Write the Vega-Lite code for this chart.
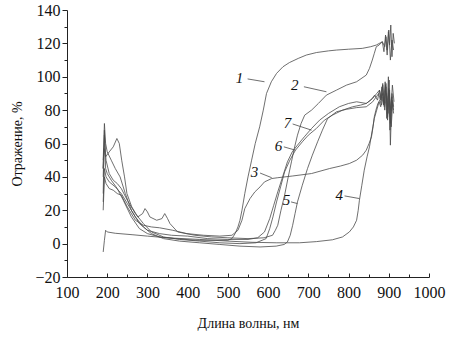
{
  "$schema": "https://vega.github.io/schema/vega-lite/v6.json",
  "autosize": {"type": "none"},
  "padding": {"left": 67, "top": 10, "right": 26, "bottom": 60},
  "width": 362,
  "height": 267,
  "background": "white",
  "config": {
    "view": {"stroke": null},
    "font": "Liberation Serif",
    "axis": {"grid": false, "domainColor": "#222", "tickColor": "#222", "labelColor": "#111", "titleColor": "#111", "labelFont": "Liberation Serif", "titleFont": "Liberation Serif", "labelFontSize": 16, "titleFontSize": 14, "titleFontWeight": "normal", "domainWidth": 1, "tickWidth": 1}
  },
  "resolve": {"axis": {"x": "independent", "y": "independent"}},
  "datasets": {
    "curves": [
      {"s":"1","x":190,"y":30},{"s":"1","x":193,"y":68},{"s":"1","x":196,"y":45},{"s":"1","x":200,"y":42},{"s":"1","x":210,"y":38},{"s":"1","x":225,"y":33},{"s":"1","x":240,"y":26},{"s":"1","x":260,"y":16},{"s":"1","x":280,"y":9},{"s":"1","x":300,"y":6},{"s":"1","x":330,"y":4},{"s":"1","x":370,"y":3},{"s":"1","x":420,"y":2},{"s":"1","x":470,"y":2},{"s":"1","x":500,"y":2},{"s":"1","x":510,"y":3},{"s":"1","x":518,"y":6},{"s":"1","x":525,"y":10},{"s":"1","x":530,"y":14},{"s":"1","x":535,"y":20},{"s":"1","x":542,"y":30},{"s":"1","x":550,"y":40},{"s":"1","x":559,"y":50},{"s":"1","x":568,"y":60},{"s":"1","x":579,"y":70},{"s":"1","x":588,"y":80},{"s":"1","x":596,"y":90},{"s":"1","x":608,"y":97},{"s":"1","x":621,"y":102},{"s":"1","x":637,"y":106},{"s":"1","x":653,"y":108.5},{"s":"1","x":675,"y":111},{"s":"1","x":695,"y":113},{"s":"1","x":720,"y":114.5},{"s":"1","x":750,"y":115.5},{"s":"1","x":770,"y":116},{"s":"1","x":800,"y":116.5},{"s":"1","x":834,"y":117},{"s":"1","x":855,"y":118},{"s":"1","x":869,"y":119},{"s":"1","x":884,"y":121},{"s":"1","x":890,"y":118},{"s":"1","x":893,"y":124},{"s":"1","x":896,"y":116},{"s":"1","x":899,"y":127},{"s":"1","x":902,"y":119},{"s":"1","x":905,"y":131},{"s":"1","x":908,"y":112},{"s":"1","x":911,"y":126},{"s":"1","x":914,"y":120},
      {"s":"2","x":189,"y":45},{"s":"2","x":192,"y":57},{"s":"2","x":196,"y":52},{"s":"2","x":205,"y":55},{"s":"2","x":215,"y":58},{"s":"2","x":224,"y":63},{"s":"2","x":230,"y":60},{"s":"2","x":236,"y":50},{"s":"2","x":243,"y":40},{"s":"2","x":249,"y":30},{"s":"2","x":261,"y":22},{"s":"2","x":276,"y":16},{"s":"2","x":288,"y":18},{"s":"2","x":294,"y":21},{"s":"2","x":300,"y":19},{"s":"2","x":306,"y":16},{"s":"2","x":323,"y":14},{"s":"2","x":336,"y":15},{"s":"2","x":343,"y":18},{"s":"2","x":350,"y":15},{"s":"2","x":356,"y":12},{"s":"2","x":375,"y":7},{"s":"2","x":418,"y":5},{"s":"2","x":460,"y":4},{"s":"2","x":500,"y":3.5},{"s":"2","x":550,"y":3},{"s":"2","x":590,"y":3.5},{"s":"2","x":611,"y":5},{"s":"2","x":618,"y":8},{"s":"2","x":624,"y":11},{"s":"2","x":632,"y":20},{"s":"2","x":641,"y":29},{"s":"2","x":650,"y":40},{"s":"2","x":658,"y":49},{"s":"2","x":665,"y":57},{"s":"2","x":673,"y":65},{"s":"2","x":682,"y":72},{"s":"2","x":691,"y":77},{"s":"2","x":708,"y":80},{"s":"2","x":725,"y":84},{"s":"2","x":745,"y":89},{"s":"2","x":770,"y":92},{"s":"2","x":795,"y":95},{"s":"2","x":820,"y":97},{"s":"2","x":844,"y":101},{"s":"2","x":852,"y":105},{"s":"2","x":859,"y":110},{"s":"2","x":864,"y":114},{"s":"2","x":869,"y":118},{"s":"2","x":876,"y":119},{"s":"2","x":884,"y":121},{"s":"2","x":888,"y":115},{"s":"2","x":892,"y":125},{"s":"2","x":896,"y":113},{"s":"2","x":900,"y":128},{"s":"2","x":904,"y":110},{"s":"2","x":908,"y":122},{"s":"2","x":912,"y":116},
      {"s":"3","x":190,"y":20},{"s":"3","x":193,"y":40},{"s":"3","x":197,"y":36},{"s":"3","x":205,"y":33},{"s":"3","x":215,"y":32},{"s":"3","x":225,"y":30},{"s":"3","x":235,"y":29},{"s":"3","x":250,"y":22},{"s":"3","x":270,"y":14},{"s":"3","x":290,"y":11},{"s":"3","x":310,"y":10},{"s":"3","x":330,"y":9.5},{"s":"3","x":363,"y":8},{"s":"3","x":398,"y":6},{"s":"3","x":440,"y":5},{"s":"3","x":480,"y":4.5},{"s":"3","x":510,"y":5},{"s":"3","x":525,"y":8},{"s":"3","x":535,"y":14},{"s":"3","x":542,"y":21},{"s":"3","x":555,"y":27},{"s":"3","x":567,"y":31},{"s":"3","x":580,"y":34},{"s":"3","x":591,"y":37},{"s":"3","x":609,"y":39},{"s":"3","x":624,"y":39.5},{"s":"3","x":660,"y":40.5},{"s":"3","x":708,"y":42},{"s":"3","x":753,"y":45},{"s":"3","x":780,"y":46.5},{"s":"3","x":802,"y":48},{"s":"3","x":820,"y":50},{"s":"3","x":835,"y":53},{"s":"3","x":844,"y":56},{"s":"3","x":851,"y":60},{"s":"3","x":857,"y":64},{"s":"3","x":861,"y":70},{"s":"3","x":864,"y":76},{"s":"3","x":868,"y":80},{"s":"3","x":873,"y":84},{"s":"3","x":878,"y":86},{"s":"3","x":882,"y":83},{"s":"3","x":886,"y":88},{"s":"3","x":890,"y":80},{"s":"3","x":894,"y":90},{"s":"3","x":898,"y":78},{"s":"3","x":902,"y":92},{"s":"3","x":906,"y":70},{"s":"3","x":910,"y":85},
      {"s":"4","x":190,"y":-5},{"s":"4","x":193,"y":2},{"s":"4","x":196,"y":8},{"s":"4","x":200,"y":7},{"s":"4","x":220,"y":6.2},{"s":"4","x":264,"y":5.3},{"s":"4","x":300,"y":4.5},{"s":"4","x":348,"y":3.5},{"s":"4","x":430,"y":2.5},{"s":"4","x":500,"y":1.5},{"s":"4","x":560,"y":0.8},{"s":"4","x":620,"y":0.5},{"s":"4","x":678,"y":0.5},{"s":"4","x":720,"y":1.2},{"s":"4","x":760,"y":2.3},{"s":"4","x":785,"y":4},{"s":"4","x":802,"y":7},{"s":"4","x":812,"y":10},{"s":"4","x":820,"y":14},{"s":"4","x":824,"y":20},{"s":"4","x":827,"y":26},{"s":"4","x":833,"y":35},{"s":"4","x":839,"y":44},{"s":"4","x":846,"y":52},{"s":"4","x":852,"y":58},{"s":"4","x":859,"y":68},{"s":"4","x":864,"y":75},{"s":"4","x":870,"y":80},{"s":"4","x":876,"y":85},{"s":"4","x":880,"y":82},{"s":"4","x":884,"y":90},{"s":"4","x":888,"y":84},{"s":"4","x":892,"y":95},{"s":"4","x":896,"y":80},{"s":"4","x":900,"y":93},{"s":"4","x":904,"y":72},{"s":"4","x":908,"y":86},{"s":"4","x":912,"y":78},
      {"s":"5","x":190,"y":25},{"s":"5","x":193,"y":45},{"s":"5","x":197,"y":40},{"s":"5","x":205,"y":37},{"s":"5","x":220,"y":34},{"s":"5","x":235,"y":30},{"s":"5","x":250,"y":24},{"s":"5","x":270,"y":16},{"s":"5","x":290,"y":10},{"s":"5","x":310,"y":6},{"s":"5","x":340,"y":3},{"s":"5","x":380,"y":1.5},{"s":"5","x":430,"y":0.5},{"s":"5","x":480,"y":-0.5},{"s":"5","x":530,"y":-1.5},{"s":"5","x":580,"y":-2},{"s":"5","x":620,"y":-1.5},{"s":"5","x":640,"y":-0.5},{"s":"5","x":648,"y":1},{"s":"5","x":655,"y":5},{"s":"5","x":661,"y":11},{"s":"5","x":667,"y":18},{"s":"5","x":673,"y":25},{"s":"5","x":685,"y":35},{"s":"5","x":698,"y":45},{"s":"5","x":710,"y":53},{"s":"5","x":723,"y":61},{"s":"5","x":735,"y":68},{"s":"5","x":748,"y":75},{"s":"5","x":770,"y":79},{"s":"5","x":795,"y":80.5},{"s":"5","x":820,"y":81.5},{"s":"5","x":844,"y":82},{"s":"5","x":860,"y":85},{"s":"5","x":869,"y":88},{"s":"5","x":875,"y":90},{"s":"5","x":879,"y":86},{"s":"5","x":883,"y":94},{"s":"5","x":887,"y":83},{"s":"5","x":891,"y":97},{"s":"5","x":895,"y":75},{"s":"5","x":899,"y":100},{"s":"5","x":903,"y":68},{"s":"5","x":907,"y":88},{"s":"5","x":912,"y":80},
      {"s":"6","x":190,"y":40},{"s":"6","x":193,"y":65},{"s":"6","x":197,"y":50},{"s":"6","x":205,"y":42},{"s":"6","x":215,"y":38},{"s":"6","x":225,"y":36},{"s":"6","x":235,"y":33},{"s":"6","x":250,"y":26},{"s":"6","x":270,"y":18},{"s":"6","x":290,"y":12},{"s":"6","x":310,"y":7},{"s":"6","x":340,"y":4},{"s":"6","x":380,"y":2.5},{"s":"6","x":430,"y":1.5},{"s":"6","x":480,"y":0.5},{"s":"6","x":530,"y":0},{"s":"6","x":570,"y":0.5},{"s":"6","x":595,"y":3},{"s":"6","x":604,"y":9},{"s":"6","x":612,"y":16},{"s":"6","x":621,"y":25},{"s":"6","x":631,"y":34},{"s":"6","x":641,"y":43},{"s":"6","x":654,"y":50},{"s":"6","x":668,"y":56},{"s":"6","x":685,"y":61},{"s":"6","x":700,"y":65},{"s":"6","x":720,"y":69},{"s":"6","x":740,"y":74},{"s":"6","x":760,"y":77},{"s":"6","x":785,"y":80},{"s":"6","x":810,"y":82},{"s":"6","x":830,"y":83},{"s":"6","x":844,"y":84},{"s":"6","x":855,"y":86},{"s":"6","x":865,"y":89},{"s":"6","x":872,"y":86},{"s":"6","x":877,"y":92},{"s":"6","x":881,"y":87},{"s":"6","x":885,"y":95},{"s":"6","x":889,"y":84},{"s":"6","x":893,"y":96},{"s":"6","x":897,"y":76},{"s":"6","x":901,"y":98},{"s":"6","x":904,"y":59},{"s":"6","x":908,"y":90},{"s":"6","x":912,"y":82},
      {"s":"7","x":190,"y":50},{"s":"7","x":193,"y":72},{"s":"7","x":196,"y":60},{"s":"7","x":200,"y":55},{"s":"7","x":210,"y":50},{"s":"7","x":220,"y":45},{"s":"7","x":232,"y":40},{"s":"7","x":245,"y":30},{"s":"7","x":260,"y":20},{"s":"7","x":280,"y":12},{"s":"7","x":300,"y":8},{"s":"7","x":330,"y":6},{"s":"7","x":360,"y":5},{"s":"7","x":400,"y":4.5},{"s":"7","x":450,"y":3},{"s":"7","x":500,"y":2.5},{"s":"7","x":550,"y":2.5},{"s":"7","x":574,"y":3.5},{"s":"7","x":591,"y":7},{"s":"7","x":604,"y":15},{"s":"7","x":614,"y":23},{"s":"7","x":624,"y":31},{"s":"7","x":636,"y":40},{"s":"7","x":648,"y":49},{"s":"7","x":660,"y":55},{"s":"7","x":673,"y":59},{"s":"7","x":690,"y":64},{"s":"7","x":708,"y":69},{"s":"7","x":728,"y":74},{"s":"7","x":750,"y":78},{"s":"7","x":777,"y":82},{"s":"7","x":800,"y":84},{"s":"7","x":820,"y":85},{"s":"7","x":844,"y":84},{"s":"7","x":860,"y":87},{"s":"7","x":870,"y":90},{"s":"7","x":877,"y":92},{"s":"7","x":881,"y":86},{"s":"7","x":885,"y":96},{"s":"7","x":889,"y":82},{"s":"7","x":893,"y":94},{"s":"7","x":897,"y":74},{"s":"7","x":901,"y":90},{"s":"7","x":905,"y":80},{"s":"7","x":909,"y":95},{"s":"7","x":913,"y":85}
    ],
    "labels": [
      {"t":"1","x":529,"y":99,"x1":549,"y1":98.7,"x2":591,"y2":97},
      {"t":"2","x":666,"y":95,"x1":689,"y1":94,"x2":745,"y2":91},
      {"t":"7","x":648,"y":72,"x1":661,"y1":71.7,"x2":708,"y2":68},
      {"t":"6","x":626,"y":58.5,"x1":639,"y1":58,"x2":668,"y2":56},
      {"t":"3","x":566,"y":43,"x1":580,"y1":42.3,"x2":609,"y2":39.5},
      {"t":"5","x":646,"y":26,"x1":657,"y1":25,"x2":673,"y2":24},
      {"t":"4","x":777,"y":29,"x1":790,"y1":28.6,"x2":827,"y2":27}
    ]
  },
  "layer": [
    {
      "data": {"name": "curves"},
      "mark": {"type": "line", "stroke": "#4a4a4a", "strokeWidth": 0.8, "clip": true},
      "encoding": {
        "x": {"field": "x", "type": "quantitative", "scale": {"domain": [100, 1000], "nice": false, "zero": false},
          "axis": {"orient": "bottom", "title": "Длина волны, нм", "format": "d", "values": [100,200,300,400,500,600,700,800,900,1000], "tickSize": -4, "labelPadding": 11, "titlePadding": 16, "labelFlush": false, "labelOverlap": false}},
        "y": {"field": "y", "type": "quantitative", "scale": {"domain": [-20, 140], "nice": false, "zero": false},
          "axis": {"orient": "left", "title": "Отражение, %", "format": "d", "values": [-20,0,20,40,60,80,100,120,140], "tickSize": 5, "labelPadding": 2, "titlePadding": 10, "labelFlush": false, "labelOverlap": false}},
        "detail": {"field": "s"}
      }
    },
    {
      "data": {"name": "labels"},
      "mark": {"type": "rule", "stroke": "#4a4a4a", "strokeWidth": 0.8},
      "encoding": {
        "x": {"field": "x1", "type": "quantitative", "axis": {"orient": "bottom", "title": null, "labels": false, "domain": false, "tickSize": -3, "values": [150,250,350,450,550,650,750,850,950]}},
        "y": {"field": "y1", "type": "quantitative", "axis": {"orient": "left", "title": null, "labels": false, "domain": false, "tickSize": 3, "values": [-10,10,30,50,70,90,110,130]}},
        "x2": {"field": "x2"},
        "y2": {"field": "y2"}
      }
    },
    {
      "data": {"name": "labels"},
      "mark": {"type": "text", "font": "Liberation Serif", "fontStyle": "italic", "fontSize": 15, "color": "#111", "align": "center", "baseline": "middle"},
      "encoding": {
        "x": {"field": "x", "type": "quantitative", "axis": null},
        "y": {"field": "y", "type": "quantitative", "axis": null},
        "text": {"field": "t"}
      }
    }
  ]
}
